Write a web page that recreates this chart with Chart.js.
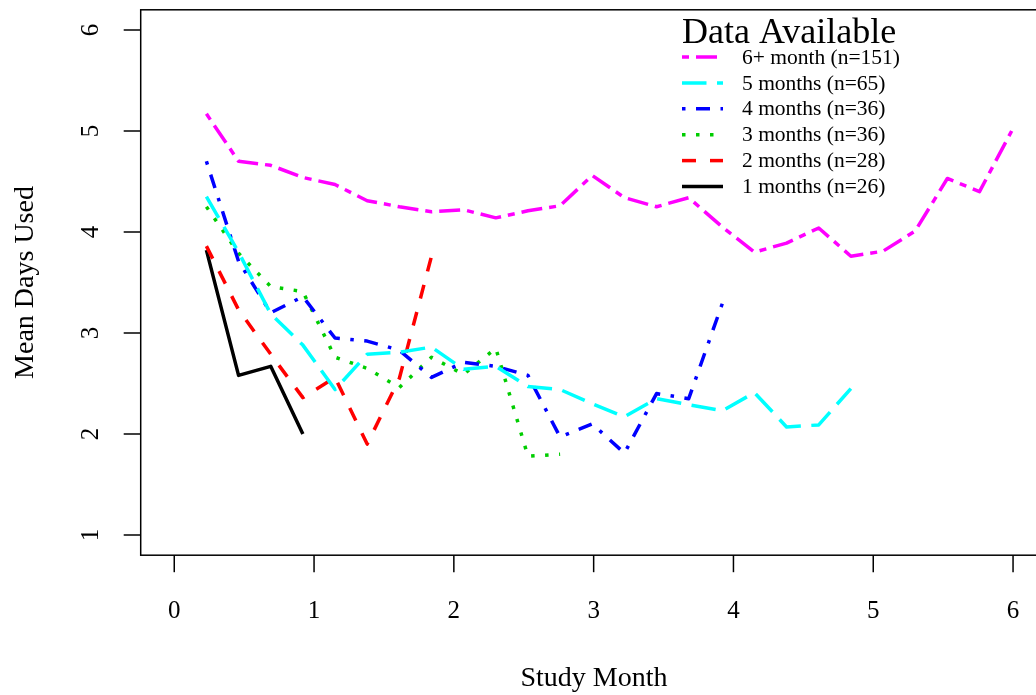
<!DOCTYPE html>
<html>
<head>
<meta charset="utf-8">
<title>Mean Days Used by Study Month</title>
<script src="https://cdn.jsdelivr.net/npm/chart.js@4.4.1/dist/chart.umd.min.js"></script>
<style>
    html, body { margin: 0; padding: 0; background: #fff; overflow: hidden; }
    canvas { display: block; }
</style>
</head>
<body>
<canvas id="usageChart" width="1060" height="695"></canvas>
<script>
/* ── Data ─────────────────────────────────────────────────────────────────── */

// weekly time points, in study months
const studyMonth = [0.23, 0.46, 0.69, 0.92, 1.15, 1.38, 1.61, 1.84, 2.07, 2.30,
                    2.53, 2.76, 2.99, 3.22, 3.45, 3.68, 3.92, 4.15, 4.38, 4.61,
                    4.84, 5.07, 5.30, 5.53, 5.76, 5.99];

const month6plus = [5.17, 4.70, 4.66, 4.54, 4.47, 4.31, 4.25, 4.20, 4.22, 4.14,
                    4.21, 4.26, 4.56, 4.34, 4.25, 4.34, 4.05, 3.80, 3.89, 4.04,
                    3.76, 3.81, 4.01, 4.53, 4.40, 5.00];
const month5 = [4.35, 3.80, 3.19, 2.88, 2.44, 2.79, 2.81, 2.86, 2.64, 2.67,
                2.47, 2.44, 2.30, 2.17, 2.35, 2.29, 2.23, 2.41, 2.07, 2.09, 2.45];
const month4 = [4.70, 3.71, 3.20, 3.36, 2.95, 2.92, 2.83, 2.56, 2.71, 2.67,
                2.58, 1.97, 2.10, 1.81, 2.40, 2.35, 3.29];
const month3 = [4.25, 3.79, 3.46, 3.41, 2.76, 2.65, 2.46, 2.76, 2.59, 2.85, 1.78, 1.80];
const month2 = [3.86, 3.23, 2.79, 2.36, 2.56, 1.90, 2.55, 3.76];
const month1 = [3.82, 2.58, 2.67, 2.00];

const seriesLabels = ['6+ month (n=151)', '5 months (n=65)', '4 months (n=36)',
                      '3 months (n=36)', '2 months (n=28)', '1 months (n=26)'];

const xTicks = [0, 1, 2, 3, 4, 5, 6];
const yTicks = [1, 2, 3, 4, 5, 6];

/* ── Styling (R base graphics look) ───────────────────────────────────────── */
const SERIF = '"Liberation Serif", "Times New Roman", serif';
const LW = 3.5;
const seriesStyle = [
    { color: '#FF00FF', dash: [7, 7, 21, 7] },          // twodash
    { color: '#00FFFF', dash: [24.5, 10.5] },           // longdash
    { color: '#0000FF', dash: [3.5, 10.5, 14, 10.5] },  // dotdash
    { color: '#00CD00', dash: [3.5, 10.5] },            // dotted
    { color: '#FF0000', dash: [14, 14] },               // dashed
    { color: '#000000', dash: [] },                     // solid
];

function points(values) {
    return values.map((v, i) => ({ x: studyMonth[i], y: v }));
}

const allSeries = [month6plus, month5, month4, month3, month2, month1];

const datasets = allSeries.map((vals, i) => ({
    label: seriesLabels[i],
    data: points(vals),
    borderColor: seriesStyle[i].color,
    borderDash: seriesStyle[i].dash,
    borderWidth: LW,
    borderCapStyle: 'butt',
    borderJoinStyle: 'round',
    pointRadius: 0,
    tension: 0,
    fill: false,
}));

/* ── Plugin: box, axes, titles and legend drawn like R ────────────────────── */
const rFrame = {
    id: 'rFrame',
    afterDraw(chart) {
        const { ctx, chartArea: a, scales } = chart;
        const xs = scales.x, ys = scales.y;

        function seg(x1, y1, x2, y2) {
            ctx.beginPath();
            ctx.moveTo(x1, y1);
            ctx.lineTo(x2, y2);
            ctx.stroke();
        }

        ctx.save();
        ctx.strokeStyle = '#000';
        ctx.fillStyle = '#000';
        ctx.lineWidth = 1.5;
        ctx.setLineDash([]);

        // plot box
        ctx.strokeRect(a.left, a.top, a.right - a.left, a.bottom - a.top);

        // x axis
        ctx.font = '25px ' + SERIF;
        ctx.textAlign = 'center';
        ctx.textBaseline = 'alphabetic';
        xTicks.forEach(v => {
            const px = xs.getPixelForValue(v);
            seg(px, a.bottom, px, a.bottom + 17);
            ctx.fillText(String(v), px, a.bottom + 63);
        });

        // y axis (labels parallel to the axis)
        yTicks.forEach(v => {
            const py = ys.getPixelForValue(v);
            seg(a.left - 17, py, a.left, py);
            ctx.save();
            ctx.translate(a.left - 43, py);
            ctx.rotate(-Math.PI / 2);
            ctx.fillText(String(v), 0, 0);
            ctx.restore();
        });

        // axis titles
        ctx.font = '28px ' + SERIF;
        ctx.fillText('Study Month', 594, 686);
        ctx.save();
        ctx.translate(33, (a.top + a.bottom) / 2);
        ctx.rotate(-Math.PI / 2);
        ctx.fillText('Mean Days Used', 0, 0);
        ctx.restore();

        // legend
        const lx = 682, ly = 57, rowH = 25.9;
        ctx.textAlign = 'left';
        ctx.font = '36px ' + SERIF;
        ctx.fillText('Data Available', lx, 43);
        ctx.font = '21.5px ' + SERIF;
        chart.data.datasets.forEach((ds, i) => {
            const yy = ly + i * rowH;
            ctx.strokeStyle = ds.borderColor;
            ctx.lineWidth = LW;
            ctx.lineCap = 'butt';
            ctx.setLineDash(ds.borderDash);
            seg(lx, yy, lx + 41, yy);
            ctx.setLineDash([]);
            ctx.textBaseline = 'middle';
            ctx.fillText(ds.label, 742, yy + 1);
        });

        ctx.restore();
    }
};

/* ── Chart ────────────────────────────────────────────────────────────────── */
new Chart(document.getElementById('usageChart'), {
    type: 'line',
    data: { datasets },
    plugins: [rFrame],
    options: {
        responsive: false,
        animation: false,
        devicePixelRatio: 1,
        layout: { padding: { left: 0, top: 9.8, right: 13.4, bottom: 0 } },
        plugins: {
            legend: { display: false },
            tooltip: { enabled: false },
        },
        scales: {
            x: {
                type: 'linear',
                min: -0.24,
                max: 6.24,
                grid: { display: false },
                border: { display: false },
                ticks: { display: false },
                afterFit: s => { s.height = 139.8; },
            },
            y: {
                min: 0.8,
                max: 6.2,
                grid: { display: false },
                border: { display: false },
                ticks: { display: false },
                afterFit: s => { s.width = 140.7; },
            }
        }
    }
});
</script>
</body>
</html>
